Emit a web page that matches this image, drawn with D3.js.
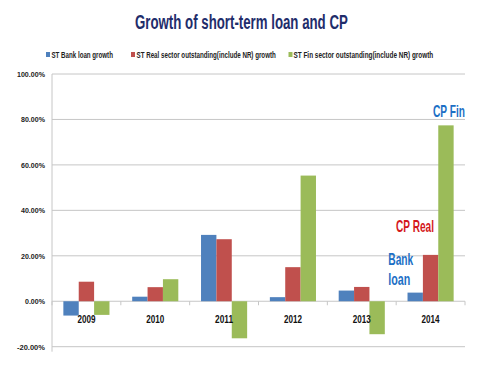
<!DOCTYPE html>
<html><head><meta charset="utf-8">
<script src="https://cdn.jsdelivr.net/npm/d3@7/dist/d3.min.js"></script>
<style>body{margin:0;background:#fff}svg{display:block}</style>
</head><body><svg id="c" width="482" height="379"></svg>
<script>
const categories = ["2009","2010","2011","2012","2013","2014"];
const seriesNames = ["ST Bank loan growth","ST Real sector outstanding(include NR) growth","ST Fin sector outstanding(include NR) growth"];
const bankLoan = [-6.3, 2.0, 29.2, 1.8, 4.7, 3.8];
const realSector = [8.6, 6.2, 27.3, 15.0, 6.3, 20.4];
const finSector = [-6.0, 9.7, -16.3, 55.3, -14.5, 77.4];
const yTicks = [-20, 0, 20, 40, 60, 80, 100];
const colors = ["#4f81bd","#c0504d","#9bbb59"];
const values = [bankLoan, realSector, finSector];

const svg = d3.select("#c");
const FONT = "'Liberation Sans', Arial, sans-serif";
const pLeft = 52, pRight = 465, pTop = 74, pBottom = 346.7;

// draws text at (x,y) horizontally compressed to the given width
function fitText(parent, str, x, yy, width, size, color, anchor) {
  const t = parent.append("text").attr("font-family", FONT).attr("font-weight", "bold")
    .attr("font-size", size).attr("fill", color).text(str);
  const natural = t.node().getComputedTextLength();
  const k = width / natural;
  let x0 = x;
  if (anchor === "middle") x0 = x - width / 2;
  if (anchor === "end") x0 = x - width;
  t.attr("transform", `translate(${x0},${yy}) scale(${k},1)`);
  return t;
}

const y = d3.scaleLinear().domain([-20, 100]).range([pBottom, pTop]);
const x0 = d3.scaleBand().domain(categories).range([pLeft, pRight]).paddingInner(0.33).paddingOuter(0.165);
const x1 = d3.scaleBand().domain(d3.range(3)).range([0, x0.bandwidth()]);

// title
fitText(svg, "Growth of short-term loan and CP", 241.5, 29, 213, 20.5, "#1f2d6b", "middle");

// legend
const legendX = [{sq:46, tx:51.5, w:61.5},{sq:131, tx:136.5, w:139.5},{sq:288.5, tx:293.5, w:140}];
seriesNames.forEach((n, i) => {
  svg.append("rect").attr("x", legendX[i].sq).attr("y", 52).attr("width", 4).attr("height", 5).attr("fill", colors[i]);
  fitText(svg, n, legendX[i].tx, 57.5, legendX[i].w, 8.5, "#222", "start");
});

// gridlines
svg.append("g").selectAll("line").data(yTicks).join("line")
  .attr("x1", pLeft).attr("x2", pRight).attr("y1", d => y(d)).attr("y2", d => y(d))
  .attr("stroke", "#c6c6c6").attr("stroke-width", 1);

// y axis line
svg.append("line").attr("x1", pLeft).attr("x2", pLeft).attr("y1", pTop).attr("y2", pBottom + 5)
  .attr("stroke", "#c6c6c6");
// y labels
const yl = svg.append("g");
yTicks.forEach(d => {
  const s = d.toFixed(2) + "%";
  fitText(yl, s, 45, y(d) + 3, s.length * 4.0, 8, "#222", "end");
});

// category tick marks on zero line
const bounds = categories.map(c => x0(c) - x0.step() * x0.paddingInner() / 2).concat([pRight]);
svg.append("g").selectAll("line").data(bounds).join("line")
  .attr("x1", d => d).attr("x2", d => d).attr("y1", y(0)).attr("y2", y(0) + 4)
  .attr("stroke", "#c6c6c6");

// bars
const g = svg.append("g");
categories.forEach((c, ci) => {
  values.forEach((arr, si) => {
    const v = arr[ci];
    g.append("rect").attr("x", x0(c) + x1(si)).attr("width", x1.bandwidth())
      .attr("y", y(Math.max(0, v))).attr("height", Math.abs(y(v) - y(0)))
      .attr("fill", colors[si]);
  });
});

// category labels
const cl = svg.append("g");
categories.forEach(d => {
  fitText(cl, d, x0(d) + x0.bandwidth() / 2, 322.5, 18, 10.5, "#111", "middle");
});

// annotations
const ann = [
  {t:"CP Fin", x:433, y:116.7, w:32, c:"#1c6fc5"},
  {t:"CP Real", x:396, y:231.7, w:38, c:"#d4171c"},
  {t:"Bank", x:388.3, y:265, w:25, c:"#1c6fc5"},
  {t:"loan", x:388.3, y:285, w:22, c:"#1c6fc5"}
];
ann.forEach(a => fitText(svg, a.t, a.x, a.y, a.w, 16, a.c, "start"));
</script></body></html>
